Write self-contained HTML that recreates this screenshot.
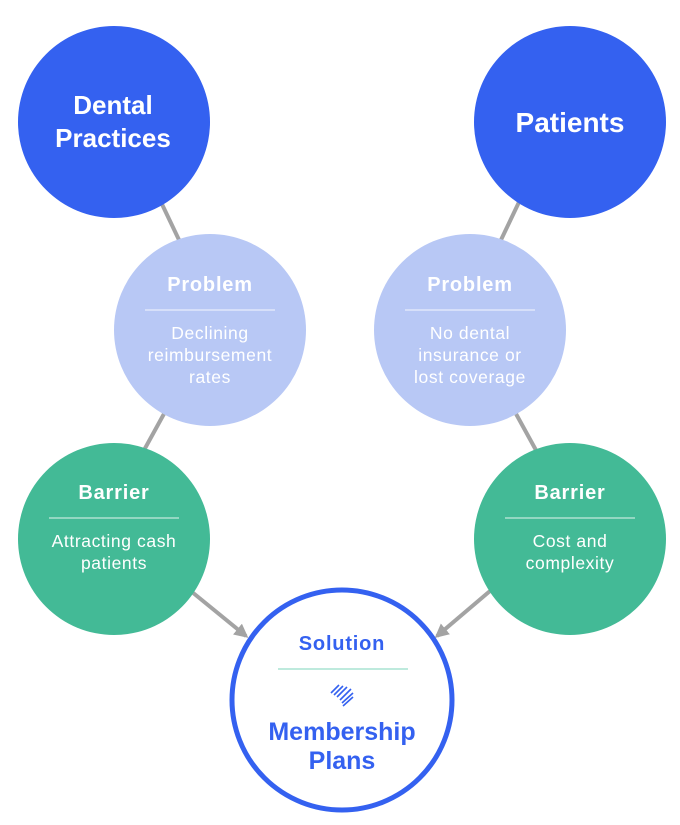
<!DOCTYPE html>
<html><head><style>
html,body{margin:0;padding:0;background:#fff;}
svg{display:block;font-family:"Liberation Sans","DejaVu Sans",sans-serif;}
</style></head><body>
<svg width="680" height="825" viewBox="0 0 680 825" xmlns="http://www.w3.org/2000/svg">
<defs>
<marker id="ah" markerWidth="14" markerHeight="14" refX="11" refY="7" orient="auto" markerUnits="userSpaceOnUse">
<path d="M0,0 L14,7 L0,14 Z" fill="#a3a3a3"/>
</marker>
</defs>
<g stroke="#a3a3a3" stroke-width="4">
<line x1="160" y1="200" x2="180" y2="242"/>
<line x1="165" y1="412" x2="143" y2="452"/>
<line x1="520" y1="200" x2="500" y2="242"/>
<line x1="515" y1="412" x2="537" y2="452"/>
<line x1="192" y1="592" x2="246" y2="636" marker-end="url(#ah)"/>
<line x1="490" y1="591" x2="437" y2="636" marker-end="url(#ah)"/>
</g>
<circle cx="114" cy="122" r="96" fill="#3461f0"/>
<circle cx="570" cy="122" r="96" fill="#3461f0"/>
<circle cx="210" cy="330" r="96" fill="#b8c8f5"/>
<circle cx="470" cy="330" r="96" fill="#b8c8f5"/>
<circle cx="114" cy="539" r="96" fill="#43ba96"/>
<circle cx="570" cy="539" r="96" fill="#43ba96"/>
<circle cx="342" cy="700" r="110" fill="#fff" stroke="#3461f0" stroke-width="5"/>
<g fill="#fff" text-anchor="middle" font-weight="bold">
<text x="113" y="114" font-size="26">Dental</text>
<text x="113" y="147" font-size="26">Practices</text>
<text x="570" y="132" font-size="28">Patients</text>
<text x="210" y="291" font-size="20" letter-spacing="0.8">Problem</text>
<text x="470" y="291" font-size="20" letter-spacing="0.8">Problem</text>
<text x="114" y="499" font-size="20" letter-spacing="0.8">Barrier</text>
<text x="570" y="499" font-size="20" letter-spacing="0.8">Barrier</text>
</g>
<g stroke="#fff" stroke-width="1" opacity="0.85">
<line x1="145" y1="310" x2="275" y2="310"/>
<line x1="405" y1="310" x2="535" y2="310"/>
<line x1="49" y1="518" x2="179" y2="518"/>
<line x1="505" y1="518" x2="635" y2="518"/>
</g>
<g fill="#fff" text-anchor="middle" font-size="17.5" letter-spacing="0.6">
<text x="210" y="339">Declining</text>
<text x="210" y="361">reimbursement</text>
<text x="210" y="383">rates</text>
<text x="470" y="339">No dental</text>
<text x="470" y="361">insurance or</text>
<text x="470" y="383">lost coverage</text>
<text x="114" y="547">Attracting cash</text>
<text x="114" y="569">patients</text>
<text x="570" y="547">Cost and</text>
<text x="570" y="569">complexity</text>
</g>
<text x="342" y="650" font-size="20" letter-spacing="0.8" font-weight="bold" fill="#3461f0" text-anchor="middle">Solution</text>
<line x1="278" y1="669" x2="408" y2="669" stroke="#a9e3d2" stroke-width="1.5"/>
<g stroke="#3461f0" stroke-width="1.6">
<line x1="331" y1="693" x2="339" y2="685"/>
<line x1="334" y1="695" x2="343" y2="686"/>
<line x1="337" y1="697" x2="347" y2="687"/>
<line x1="340" y1="700" x2="351" y2="689"/>
<line x1="342" y1="703" x2="353" y2="693"/>
<line x1="343" y1="706" x2="353" y2="697"/>
</g>
<text x="342" y="740" font-size="25" font-weight="bold" fill="#3461f0" text-anchor="middle">Membership</text>
<text x="342" y="769" font-size="25" font-weight="bold" fill="#3461f0" text-anchor="middle">Plans</text>
</svg>
</body></html>
